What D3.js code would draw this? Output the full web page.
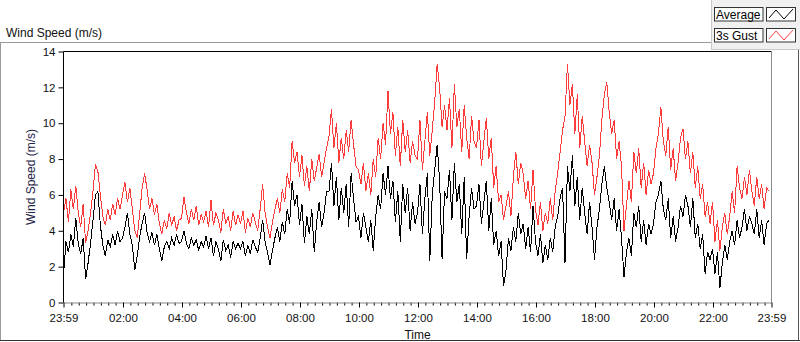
<!DOCTYPE html>
<html><head><meta charset="utf-8">
<script src="https://cdn.jsdelivr.net/npm/d3@7"></script>
<style>
html,body{margin:0;padding:0;background:#fff;}
svg{display:block;font-family:"Liberation Sans",Arial,sans-serif;}
</style></head>
<body><svg id="chart" width="800" height="342"></svg>
<script>
// ---- data (5-minute samples starting 23:59) ----
const startTime = new Date(2000, 0, 1, 23, 59);
const stepMinutes = 5;
const seriesNames = ["Average", "3s Gust"];
const yTicks = [0, 2, 4, 6, 8, 10, 12, 14];
const xTickLabels = ["23:59","02:00","04:00","06:00","08:00","10:00","12:00","14:00","16:00","18:00","20:00","22:00","23:59"];

const average = [
1.5,3.4,2.8,3.8,3.1,4.7,3.3,2.7,3.6,1.3,2.2,3.3,
4.6,6.0,6.2,4.3,3.2,2.6,3.5,3.1,3.8,3.2,4.0,3.4,
3.6,4.2,5.0,3.8,3.2,1.8,2.6,3.7,4.4,5.0,3.9,3.4,
3.9,3.2,3.8,3.0,2.3,3.1,3.4,3.0,3.6,3.2,3.8,3.3,
3.4,4.0,3.3,3.0,3.6,3.2,3.5,2.9,3.4,3.1,3.7,3.0,
3.6,2.6,3.4,3.0,2.3,3.5,2.9,3.2,2.5,3.4,3.0,3.3,
3.0,3.4,2.6,3.2,2.7,3.5,3.1,2.8,3.6,4.6,3.4,2.8,
2.1,2.9,3.6,4.2,3.4,4.5,3.8,5.2,4.4,6.8,5.4,6.0,
4.3,5.5,3.3,4.8,3.8,5.2,2.8,4.5,5.6,4.2,5.0,6.2,
6.2,7.8,5.4,7.0,4.6,6.4,5.0,6.6,4.2,7.2,5.8,4.5,
4.8,3.6,5.0,4.2,3.4,4.6,2.9,4.8,6.0,5.2,7.2,6.0,
7.6,5.8,6.8,4.5,6.2,3.4,6.6,5.0,6.4,4.0,5.6,4.4,
5.0,6.6,3.8,5.8,7.2,2.3,6.0,7.4,8.8,6.8,2.4,6.2,
5.8,7.4,4.6,7.8,5.6,6.6,3.8,7.0,2.4,4.8,6.4,5.2,
5.4,6.6,4.4,5.6,6.8,4.0,5.8,3.2,4.0,2.6,3.4,0.9,
1.8,3.6,2.9,4.2,3.4,5.0,3.8,4.4,3.0,4.2,2.8,5.4,
3.4,2.6,3.8,2.2,3.2,2.4,3.6,2.8,4.2,4.8,5.8,6.4,
2.2,7.6,6.2,8.2,5.4,7.0,4.6,6.4,5.0,3.8,5.6,4.2,
2.4,4.2,5.2,6.6,7.6,6.4,5.6,4.6,5.8,4.0,5.2,3.6,
1.4,2.8,3.6,2.6,5.0,4.2,5.4,3.4,4.6,3.2,4.4,3.8,
4.4,5.6,6.0,6.8,5.2,4.6,5.8,3.6,4.8,3.4,4.2,5.4,
4.8,6.0,5.4,4.2,5.8,3.6,4.4,3.0,3.8,1.6,2.8,2.4,
3.0,1.6,2.8,0.8,2.2,3.2,2.4,3.4,4.0,3.2,4.6,3.6,
4.2,5.2,4.0,4.8,4.4,3.8,5.2,3.6,4.6,3.2,4.4,4.6
];
const gust = [
5.0,5.8,4.5,6.3,5.2,6.5,5.0,4.2,5.5,3.3,4.0,5.0,
6.2,7.7,7.3,6.0,4.8,4.3,5.2,4.6,5.5,4.9,5.8,5.2,
6.0,6.7,5.6,6.4,5.2,4.0,3.6,5.0,6.4,7.2,6.3,5.2,
5.8,4.9,5.5,4.4,3.8,4.6,4.1,5.0,4.3,4.8,4.0,4.6,
4.7,5.9,5.0,4.4,5.2,4.6,5.4,4.3,4.9,4.5,5.1,4.2,
5.7,4.3,5.0,4.6,3.9,5.2,4.4,4.8,4.0,5.1,4.3,4.9,
4.4,5.1,3.9,4.7,4.2,5.0,4.5,4.0,5.2,6.6,5.0,4.2,
3.6,4.5,5.2,5.8,5.0,6.3,5.6,7.2,6.4,9.0,7.8,8.4,
7.0,8.2,6.5,7.6,6.2,8.0,6.8,7.5,8.3,7.0,7.8,8.6,
9.3,10.8,8.6,10.0,7.8,9.2,8.0,9.6,8.4,10.2,8.8,7.6,
7.4,6.6,7.8,6.2,7.2,6.0,8.0,7.0,9.2,8.0,10.0,8.8,
11.8,9.4,10.6,8.2,9.8,7.6,10.2,8.4,9.6,7.8,9.0,8.2,
8.0,10.2,7.4,9.0,10.6,8.2,9.6,11.2,13.3,12.0,9.8,11.0,
9.6,11.4,8.6,12.2,9.8,10.8,8.4,11.0,9.2,8.0,10.4,9.0,
8.6,10.2,7.6,9.0,10.3,8.0,9.2,6.4,7.6,5.6,6.0,4.6,
5.4,6.2,4.8,7.0,8.4,6.6,7.8,7.2,5.8,6.8,5.2,7.4,
5.2,4.3,5.6,4.0,5.0,4.4,5.8,4.6,6.2,7.2,8.4,9.6,
10.4,13.3,11.0,12.2,9.4,11.6,8.6,10.4,9.0,7.6,8.8,7.8,
6.0,7.0,8.2,10.2,11.6,12.3,10.6,9.4,10.2,8.0,9.0,7.6,
4.0,5.4,6.8,5.6,8.4,7.2,8.6,6.4,7.8,6.0,7.4,6.6,
7.2,8.6,9.4,10.9,9.0,8.2,9.8,7.4,8.6,6.8,7.8,9.2,
9.7,8.0,9.0,7.2,8.4,6.4,7.6,5.8,6.6,4.8,5.6,4.4,
5.6,3.4,4.6,2.9,4.2,5.0,3.8,4.8,6.2,5.0,7.6,6.4,
5.8,7.0,6.0,7.4,6.2,5.4,7.0,5.8,6.6,5.2,6.4,6.2
];

// ---- layout ----
const svg = d3.select("#chart");
const plot = {left: 63.5, right: 771.5, top: 51.5, bottom: 302.5};
const MIN = 60000;
const endTime = new Date(+startTime + 24 * 60 * MIN);
const times = average.map((d, i) => new Date(+startTime + i * stepMinutes * MIN));

const x = d3.scaleTime().domain([startTime, endTime]).range([plot.left, plot.right]);
const y = d3.scaleLinear().domain([0, 14]).range([plot.bottom, plot.top]);

// outer frame
svg.append("line").attr("x1", 0).attr("x2", 712).attr("y1", 42.5).attr("y2", 42.5).attr("stroke", "#9a9a9a");
svg.append("line").attr("x1", 0.5).attr("x2", 0.5).attr("y1", 42.5).attr("y2", 341).attr("stroke", "#9a9a9a");
svg.append("line").attr("x1", 0).attr("x2", 800).attr("y1", 340.5).attr("y2", 340.5).attr("stroke", "#333");
svg.append("line").attr("x1", 798.5).attr("x2", 798.5).attr("y1", 50).attr("y2", 341).attr("stroke", "#555");

// caption
svg.append("text").attr("x", 6).attr("y", 37).attr("font-size", 12).attr("fill", "#111").text("Wind Speed (m/s)");

// legend panel
const lg = svg.append("g");
lg.append("rect").attr("x", 711.5).attr("y", -1).attr("width", 90).attr("height", 50.5).attr("fill", "#f0f0f0").attr("stroke", "#c8c8c8");
const legendRows = [{name: seriesNames[0], color: "#000", y: 7}, {name: seriesNames[1], color: "#ff4040", y: 28}];
legendRows.forEach(r => {
  lg.append("rect").attr("x", 714.5).attr("y", r.y + 0.5).attr("width", 48.5).attr("height", 13.5).attr("fill", "#fff").attr("stroke", "#333");
  lg.append("text").attr("x", 716).attr("y", r.y + 11.5).attr("font-size", 12).attr("fill", "#000").text(r.name);
  lg.append("rect").attr("x", 766.5).attr("y", r.y + 0.5).attr("width", 29).attr("height", 13.5).attr("fill", "#fff").attr("stroke", "#333");
  lg.append("path").attr("d", `M769,${r.y + 11} L776,${r.y + 3} L784,${r.y + 12} L793,${r.y + 2}`)
    .attr("fill", "none").attr("stroke", r.color).attr("stroke-width", 1);
});

// plot background & clip
svg.append("rect").attr("x", plot.left).attr("y", plot.top).attr("width", plot.right - plot.left).attr("height", plot.bottom - plot.top).attr("fill", "#fff");
svg.append("clipPath").attr("id", "clip").append("rect")
  .attr("x", plot.left).attr("y", plot.top).attr("width", plot.right - plot.left).attr("height", plot.bottom - plot.top);

const line = d3.line().x((d, i) => x(times[i])).y(d => y(d));
const g = svg.append("g").attr("clip-path", "url(#clip)");
g.append("path").datum(gust).attr("d", line).attr("fill", "none").attr("stroke", "#ff3c3c").attr("stroke-width", 1).attr("shape-rendering", "crispEdges");
g.append("path").datum(average).attr("d", line).attr("fill", "none").attr("stroke", "#000").attr("stroke-width", 1).attr("shape-rendering", "crispEdges");

// plot borders
svg.append("line").attr("x1", plot.left).attr("x2", plot.right).attr("y1", plot.top).attr("y2", plot.top).attr("stroke", "#000");
svg.append("line").attr("x1", plot.left).attr("x2", plot.left).attr("y1", plot.top).attr("y2", plot.bottom).attr("stroke", "#000");
svg.append("line").attr("x1", plot.right).attr("x2", plot.right).attr("y1", plot.top).attr("y2", plot.bottom).attr("stroke", "#8a8a8a");

// x axis
const parseHM = s => {
  const [h, m] = s.split(":").map(Number);
  return h === 23 && m === 59 ? null : new Date(2000, 0, 2, h, m);
};
const majorTimes = xTickLabels.map((s, i) => i === 0 ? startTime : (i === xTickLabels.length - 1 ? endTime : parseHM(s)));
const minorTimes = [];
for (let mnt = 15; mnt < 24 * 60; mnt += 15) {
  if (mnt % 120 !== 0) minorTimes.push(new Date(2000, 0, 2, 0, mnt));
}
const xMinor = svg.append("g").attr("transform", `translate(0,${plot.bottom})`)
  .call(d3.axisBottom(x).tickValues(minorTimes).tickSize(3).tickFormat(""));
xMinor.select(".domain").remove();
xMinor.selectAll("line").attr("stroke", "#000");

const xAxis = svg.append("g").attr("transform", `translate(0,${plot.bottom})`)
  .call(d3.axisBottom(x).tickValues(majorTimes).tickSize(5).tickSizeOuter(0).tickPadding(6)
    .tickFormat((d, i) => xTickLabels[i]));
xAxis.select(".domain").attr("stroke", "#8a8a8a");
xAxis.selectAll("line").attr("stroke", "#000");
xAxis.selectAll("text").attr("font-size", 11.5).attr("fill", "#111").attr("font-family", "Liberation Sans, Arial, sans-serif");

// y axis
const yAxis = svg.append("g").attr("transform", `translate(${plot.left},0)`)
  .call(d3.axisLeft(y).tickValues(yTicks).tickSize(5).tickSizeOuter(0).tickPadding(3).tickFormat(d3.format("d")));
yAxis.select(".domain").remove();
yAxis.selectAll("line").attr("stroke", "#000");
yAxis.selectAll("text").attr("font-size", 11.5).attr("fill", "#111").attr("font-family", "Liberation Sans, Arial, sans-serif");

// axis titles
svg.append("text").attr("x", (plot.left + plot.right) / 2).attr("y", 338.5).attr("text-anchor", "middle")
  .attr("font-size", 12).attr("fill", "#111").text("Time");
svg.append("text").attr("transform", `translate(35,${(plot.top + plot.bottom) / 2}) rotate(-90)`)
  .attr("text-anchor", "middle").attr("font-size", 12).attr("fill", "#1e2446").text("Wind Speed (m/s)");
</script></body></html>
